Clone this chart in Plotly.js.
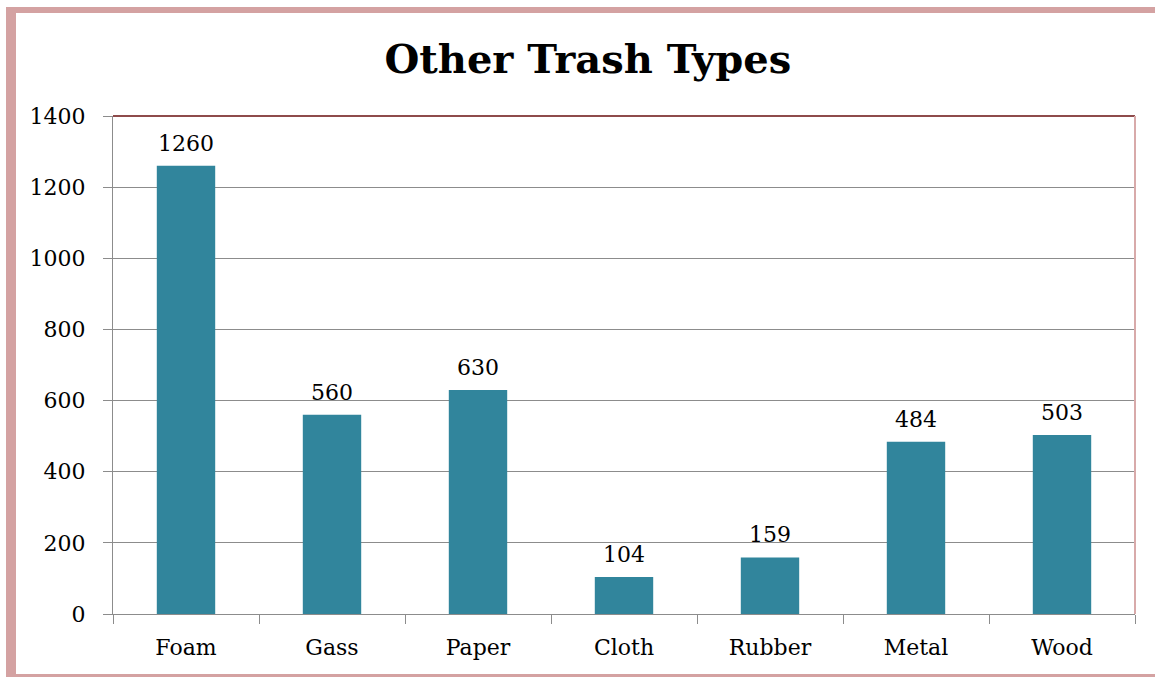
<!DOCTYPE html>
<html>
<head>
<meta charset="utf-8">
<script src="https://cdn.plot.ly/plotly-3.0.1.min.js"></script>
<style>
  html, body { margin: 0; padding: 0; background: #ffffff; }
  #frame { position: absolute; left: 6px; top: 7px; width: 1160px; height: 661px;
           border-left: 10px solid #d4a2a2; border-top: 6px solid #d4a2a2; border-bottom: 5px solid #d4a2a2; }
  #chart { position: absolute; left: 0; top: 0; width: 1155px; height: 677px; }
</style>
</head>
<body>
<div id="frame"></div>
<div id="chart"></div>
<script>
const categories = ["Foam", "Gass", "Paper", "Cloth", "Rubber", "Metal", "Wood"];
const counts = [1260, 560, 630, 104, 159, 484, 503];
const yTicks = [0, 200, 400, 600, 800, 1000, 1200, 1400];

const serif = "DejaVu Serif, Liberation Serif, serif";

const trace = {
  type: "bar",
  x: categories,
  y: counts,
  marker: { color: "#31859c" },
  cliponaxis: false,
  hoverinfo: "x+y"
};

const labels = categories.map((c, i) => ({
  x: c, y: counts[i], xref: "x", yref: "y",
  text: String(counts[i]), showarrow: false,
  yanchor: "bottom", yshift: 8,
  font: { family: serif, size: 22, color: "#000000" }
}));

const layout = {
  width: 1155,
  height: 677,
  paper_bgcolor: "rgba(0,0,0,0)",
  plot_bgcolor: "rgba(0,0,0,0)",
  margin: { l: 113, r: 20, t: 116, b: 63 },
  bargap: 0.6,
  showlegend: false,
  title: {
    text: "<b>Other Trash Types</b>",
    font: { family: serif, size: 40, color: "#000000" },
    x: 0.509, xref: "container", xanchor: "center",
    y: 0.913, yref: "container", yanchor: "middle"
  },
  xaxis: {
    type: "category",
    tickson: "boundaries",
    ticks: "outside",
    ticklen: 9,
    tickcolor: "#8c8c8c",
    showline: true,
    linecolor: "#8c8c8c",
    linewidth: 1,
    showgrid: false,
    ticklabelstandoff: 14,
    tickfont: { family: serif, size: 22, color: "#000000" }
  },
  yaxis: {
    range: [0, 1400],
    tickvals: yTicks,
    ticktext: yTicks.map(String),
    ticks: "outside",
    ticklen: 9,
    tickcolor: "#8c8c8c",
    showline: true,
    linecolor: "#8c8c8c",
    linewidth: 1,
    showgrid: true,
    gridcolor: "#8c8c8c",
    gridwidth: 1,
    zeroline: false,
    ticklabelstandoff: 13,
    tickfont: { family: serif, size: 22, color: "#000000" }
  },
  annotations: labels,
  shapes: [
    { type: "line", xref: "paper", yref: "paper", x0: 0, x1: 1, y0: 1, y1: 1,
      line: { color: "#8e4b4b", width: 2 } },
    { type: "line", xref: "paper", yref: "paper", x0: 1, x1: 1, y0: 0, y1: 1,
      line: { color: "#d8aaaa", width: 2 } }
  ]
};

Plotly.newPlot("chart", [trace], layout, { displayModeBar: false, staticPlot: true });
</script>
</body>
</html>
